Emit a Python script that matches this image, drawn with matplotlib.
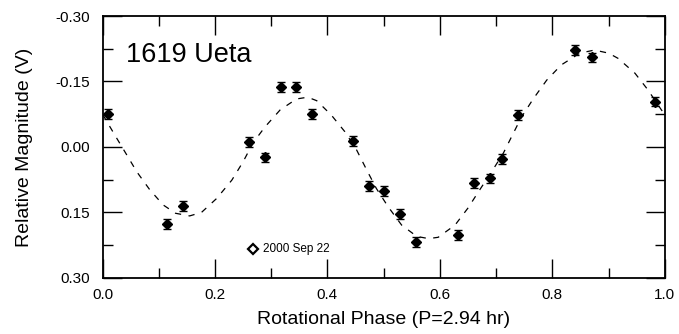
import matplotlib
matplotlib.use("Agg")
import matplotlib.pyplot as plt
from matplotlib.ticker import MultipleLocator

# ==========================================================
# DATA
# ==========================================================

phase = [
    0.010, 0.115, 0.143, 0.261, 0.289, 0.317, 0.344, 0.373,
    0.446, 0.474, 0.501, 0.529, 0.557, 0.633, 0.661, 0.689,
    0.711, 0.739, 0.841, 0.870, 0.982
]

mag = [
    -0.075, 0.176, 0.135, -0.012, 0.024, -0.137, -0.137, -0.075,
    -0.014, 0.089, 0.101, 0.153, 0.218, 0.202, 0.083, 0.072,
    0.027, -0.073, -0.222, -0.205, -0.104
]

mag_err = [0.011] * len(phase)

# fitted curve
fit_phase = [
    0.000, 0.022, 0.043, 0.061, 0.084, 0.108, 0.130, 0.155, 0.176,
    0.203, 0.230, 0.250, 0.268, 0.289, 0.316, 0.345, 0.365, 0.381,
    0.407, 0.431, 0.452, 0.470, 0.487, 0.508, 0.532, 0.559, 0.580,
    0.597, 0.627, 0.650, 0.671, 0.692, 0.713, 0.727, 0.745, 0.766,
    0.790, 0.816, 0.849, 0.875, 0.900, 0.917, 0.947, 0.970, 0.994,
    1.000
]

fit_mag = [
    -0.075, -0.027, 0.018, 0.057, 0.098, 0.133, 0.152, 0.158, 0.150,
    0.118, 0.076, 0.034, -0.010, -0.046, -0.085, -0.110, -0.114, -0.106,
    -0.073, -0.035, 0.007, 0.053, 0.095, 0.137, 0.179, 0.205, 0.210,
    0.207, 0.179, 0.140, 0.098, 0.057, 0.014, -0.022, -0.068, -0.110,
    -0.153, -0.188, -0.215, -0.222, -0.215, -0.203, -0.169, -0.131, -0.085,
    -0.075
]

y_ticks = [-0.30, -0.15, 0.00, 0.15, 0.30]
y_tick_labels = ["-0.30", "-0.15", "0.00", "0.15", "0.30"]

x_ticks = [0.0, 0.2, 0.4, 0.6, 0.8, 1.0]
x_tick_labels = ["0.0", "0.2", "0.4", "0.6", "0.8", "1.0"]

title_text = "1619 Ueta"
legend_text = "2000 Sep 22"

# ==========================================================
# FIGURE
# ==========================================================

plt.rcParams["font.family"] = ["Liberation Sans", "DejaVu Sans"]

fig = plt.figure(
    figsize=(6.79, 3.34),
    dpi=100
)

ax = fig.add_axes(
    [0.151, 0.168, 0.828, 0.784]
)

# fitted curve
ax.plot(
    fit_phase,
    fit_mag,
    color="black",
    linewidth=0.9,
    linestyle=(0, (5, 6))
)

# observations
ax.errorbar(
    phase,
    mag,
    yerr=mag_err,
    fmt="D",
    color="black",
    markersize=4.6,
    elinewidth=1.0,
    capsize=3,
    capthick=1.0
)

# legend entry drawn in place
ax.plot(
    [0.268],
    [0.233],
    marker="D",
    markersize=5.5,
    markerfacecolor="white",
    markeredgecolor="black",
    markeredgewidth=1.6,
    linestyle="none"
)

ax.text(
    0.286,
    0.233,
    legend_text,
    fontsize=8.5,
    va="center",
    ha="left"
)

ax.text(
    0.042,
    0.826,
    title_text,
    transform=ax.transAxes,
    fontsize=19.5,
    ha="left",
    va="baseline"
)

# ==========================================================
# AXES
# ==========================================================

ax.set_xlim(0.0, 1.0)
ax.set_ylim(0.30, -0.30)

ax.set_xticks(x_ticks)
ax.set_xticklabels(x_tick_labels)

ax.set_yticks(y_ticks)
ax.set_yticklabels(y_tick_labels)

ax.xaxis.set_minor_locator(MultipleLocator(0.1))
ax.yaxis.set_minor_locator(MultipleLocator(0.075))

ax.tick_params(
    which="both",
    direction="in",
    top=True,
    right=True,
    width=1.0,
    colors="black",
    labelsize=11
)

ax.tick_params(which="major", length=14)
ax.tick_params(axis="x", which="major", pad=7)
ax.tick_params(axis="y", which="major", pad=9)
ax.tick_params(which="minor", length=7)

for spine in ax.spines.values():
    spine.set_linewidth(1.3)

ax.set_xlabel(
    "Rotational Phase (P=2.94 hr)",
    fontsize=14,
    labelpad=7
)

ax.set_ylabel(
    "Relative Magnitude (V)",
    fontsize=14,
    labelpad=16
)

fig.savefig("out.png", dpi=100)
